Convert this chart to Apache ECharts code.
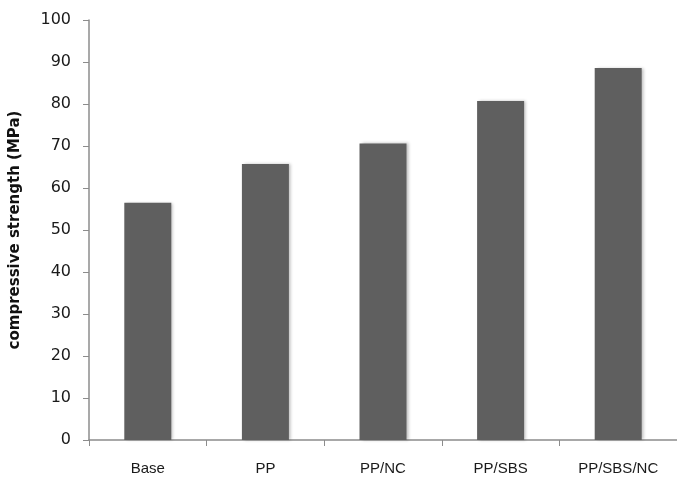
<!DOCTYPE html>
<html><head><meta charset="utf-8">
<script src="https://cdn.jsdelivr.net/npm/echarts@6/dist/echarts.min.js"></script>
<style>html,body{margin:0;padding:0;background:#fff}#c{width:677px;height:483px}</style>
</head><body><div id="c"></div>
<script>
const categories = ['Base', 'PP', 'PP/NC', 'PP/SBS', 'PP/SBS/NC'];
const strengthValues = [56.5, 65.7, 70.6, 80.7, 88.6];
const yTicks = { min: 0, max: 100, interval: 10 };
const yTitle = 'compressive strength (MPa)';

const chart = echarts.init(document.getElementById('c'));
chart.setOption({
  animation: false,
  grid: { left: 86, right: -9, top: 20, bottom: 43, containLabel: false },
  xAxis: {
    type: 'category',
    data: categories,
    axisLine: { lineStyle: { color: '#8c8c8c', width: 1.5 } },
    axisTick: { show: true, length: 6, alignWithLabel: false, lineStyle: { color: '#8c8c8c' } },
    axisLabel: { color: '#1a1a1a', fontFamily: 'Liberation Sans', fontSize: 15, margin: 21 }
  },
  yAxis: {
    type: 'value',
    min: yTicks.min, max: yTicks.max, interval: yTicks.interval,
    name: yTitle,
    nameLocation: 'middle',
    nameGap: 66,
    nameTextStyle: { color: '#111', fontWeight: 'bold', fontSize: 15, fontFamily: 'DejaVu Sans' },
    axisLine: { show: true, lineStyle: { color: '#8c8c8c', width: 1.5 } },
    axisTick: { show: true, length: 6, lineStyle: { color: '#8c8c8c' } },
    splitLine: { show: false },
    axisLabel: { color: '#1a1a1a', fontFamily: 'DejaVu Sans', fontSize: 16, margin: 18 }
  },
  series: [{
    type: 'bar',
    data: strengthValues,
    barWidth: 47,
    itemStyle: { color: '#5f5f5f', shadowColor: 'rgba(0,0,0,0.25)', shadowBlur: 3, shadowOffsetX: 2 }
  }]
});
</script></body></html>
